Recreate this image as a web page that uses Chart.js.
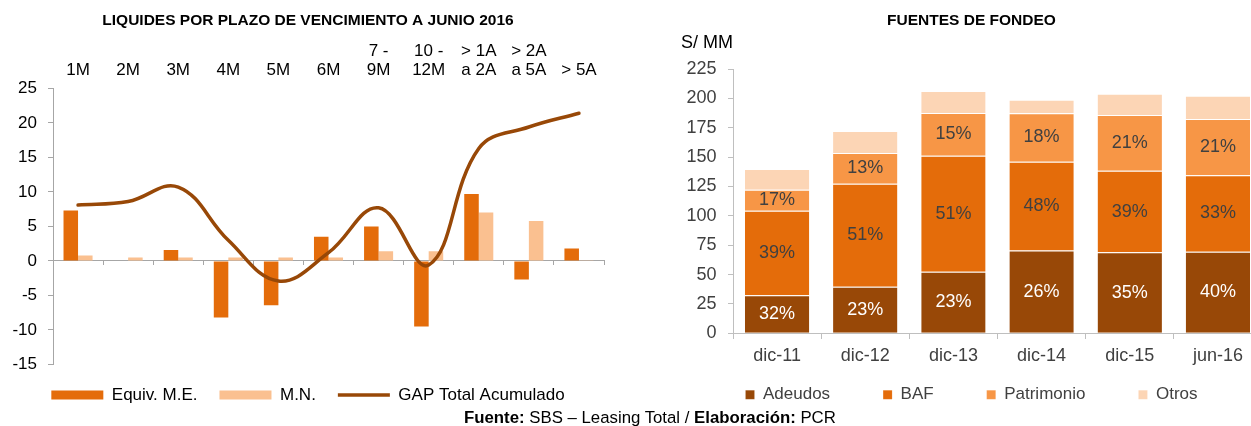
<!DOCTYPE html>
<html>
<head>
<meta charset="utf-8">
<script src="https://cdn.jsdelivr.net/npm/chart.js@4.4.1/dist/chart.umd.min.js"></script>
<style>
html, body { margin: 0; padding: 0; background: #fff; overflow: hidden; width: 1251px; height: 426px; }
#wrap { position: relative; width: 1251px; height: 426px; overflow: hidden; }
#liq { position: absolute; left: 0; top: 0; }
#fon { position: absolute; left: 660px; top: 0; }
#nota { position: absolute; left: 464px; top: 408px; font: 16.8px "Liberation Sans", Arial, sans-serif; color: #000; white-space: nowrap; }
</style>
</head>
<body>
<div id="wrap">
  <canvas id="liq" width="620" height="426"></canvas>
  <canvas id="fon" width="615" height="426"></canvas>
  <div id="nota"><b>Fuente:</b> SBS – Leasing Total / <b>Elaboración:</b> PCR</div>
</div>
<script>
// datos grafico izquierdo (liquidez por plazo)
const plazos = [['1M'], ['2M'], ['3M'], ['4M'], ['5M'], ['6M'], ['7 -', '9M'], ['10 -', '12M'], ['> 1A', 'a 2A'], ['> 2A', 'a 5A'], ['> 5A']];
const equivME = [7.3, 0, 1.6, -8.2, -6.4, 3.5, 5.0, -9.5, 9.7, -2.7, 1.8];
const mn = [0.8, 0.5, 0.5, 0.5, 0.5, 0.5, 1.4, 1.4, 7.0, 5.8, 0.1];
const gapAcum = [8.1, 8.6, 10.7, 3.0, -2.9, 1.2, 7.7, -0.6, 16.3, 19.4, 21.4];

// datos grafico derecho (fuentes de fondeo, S/ MM)
const periodos = ['dic-11', 'dic-12', 'dic-13', 'dic-14', 'dic-15', 'jun-16'];
const adeudos = [32.3, 39.7, 52.5, 70.5, 68.9, 69.5];
const baf = [72.1, 87.7, 98.7, 75.6, 69.5, 65.0];
const patrimonio = [17.8, 26.1, 36.3, 41.2, 47.4, 47.9];
const otros = [17.7, 18.7, 18.7, 11.5, 18.2, 19.9];
const pctAdeudos = ['32%', '23%', '23%', '26%', '35%', '40%'];
const pctBaf = ['39%', '51%', '51%', '48%', '39%', '33%'];
const pctPatrimonio = ['17%', '13%', '15%', '18%', '21%', '21%'];

Chart.defaults.font.family = '"Liberation Sans", Arial, sans-serif';

// etiquetas dentro de las barras apiladas
const etiquetasBarras = {
  id: 'etiquetasBarras',
  afterDatasetsDraw(chart) {
    const ctx = chart.ctx;
    chart.data.datasets.forEach((ds, i) => {
      if (!ds.etiquetas) return;
      const meta = chart.getDatasetMeta(i);
      ctx.save();
      ctx.font = '18px "Liberation Sans", Arial, sans-serif';
      ctx.fillStyle = ds.colorEtiqueta;
      ctx.textAlign = 'center';
      ctx.textBaseline = 'middle';
      meta.data.forEach((bar, j) => {
        const p = bar.getCenterPoint();
        ctx.fillText(ds.etiquetas[j], p.x, p.y);
      });
      ctx.restore();
    });
  }
};

const gris = '#a6a6a6';

new Chart(document.getElementById('liq'), {
  type: 'bar',
  data: {
    labels: plazos,
    datasets: [
      { label: 'Equiv. M.E.', data: equivME, backgroundColor: '#e46c0a', pointStyle: 'rect', order: 1,
        categoryPercentage: 0.58, barPercentage: 1 },
      { label: 'M.N.', data: mn, backgroundColor: '#fac090', pointStyle: 'rect', order: 1,
        categoryPercentage: 0.58, barPercentage: 1 },
      { type: 'line', label: 'GAP Total Acumulado', data: gapAcum, borderColor: '#984807', backgroundColor: '#984807',
        borderWidth: 3.5, borderCapStyle: 'round', tension: 0.4, pointRadius: 0, pointStyle: 'line', order: 0 }
    ]
  },
  options: {
    responsive: false,
    animation: false,
    layout: { padding: { left: 12, right: 16, top: 0, bottom: 12.5 } },
    plugins: {
      title: { display: true, text: 'LIQUIDES POR PLAZO DE VENCIMIENTO A JUNIO 2016', color: '#000',
        font: { size: 15.5, weight: 'bold' }, padding: { top: 11.7, bottom: 2.65 } },
      legend: { position: 'bottom',
        labels: { usePointStyle: true, pointStyleWidth: 52, boxHeight: 9, padding: 22, color: '#000',
          font: { size: 17 }, sort: (a, b) => a.datasetIndex - b.datasetIndex } },
      tooltip: { enabled: false }
    },
    scales: {
      x: { position: 'top', grid: { display: false, drawTicks: false }, border: { display: false },
        ticks: { color: '#000', font: { size: 17, lineHeight: 1.1 }, padding: 9, maxRotation: 0, autoSkip: false } },
      x2: { axis: 'x', type: 'category', position: { y: 0 }, offset: true,
        grid: { offset: true, drawOnChartArea: false, tickLength: 4, color: gris },
        border: { color: gris }, ticks: { display: false } },
      y: { min: -15, max: 25, ticks: { stepSize: 5, color: '#000', font: { size: 17 }, padding: 11 },
        grid: { drawOnChartArea: false, tickLength: 5, color: gris }, border: { color: gris },
        afterFit: s => { s.width = 41; } }
    }
  }
});

const gris2 = '#bfbfbf';

new Chart(document.getElementById('fon'), {
  type: 'bar',
  data: {
    labels: periodos,
    datasets: [
      { label: 'Adeudos', data: adeudos, backgroundColor: '#984807', etiquetas: pctAdeudos, colorEtiqueta: '#ffffff' },
      { label: 'BAF', data: baf, backgroundColor: '#e46c0a', etiquetas: pctBaf, colorEtiqueta: '#404040' },
      { label: 'Patrimonio', data: patrimonio, backgroundColor: '#f79646', etiquetas: pctPatrimonio, colorEtiqueta: '#404040' },
      { label: 'Otros', data: otros, backgroundColor: '#fcd5b5' }
    ]
  },
  options: {
    responsive: false,
    animation: false,
    datasets: { bar: { categoryPercentage: 0.73, barPercentage: 1, borderWidth: { top: 1 }, borderColor: 'rgba(255,255,255,0.45)' } },
    layout: { padding: { left: 21, right: 13, top: 0, bottom: 12.7 } },
    plugins: {
      title: { display: true, text: 'FUENTES DE FONDEO', color: '#000', font: { size: 15.5, weight: 'bold' },
        padding: { top: 11.2, bottom: 2.4 } },
      subtitle: { display: true, text: 'S/ MM', align: 'start', color: '#000', font: { size: 18 },
        padding: { top: 0, bottom: 15.2 } },
      legend: { position: 'bottom',
        labels: { boxWidth: 9, boxHeight: 9, padding: 53, color: '#404040', font: { size: 17 } } },
      tooltip: { enabled: false }
    },
    scales: {
      x: { stacked: true, position: { y: 0 }, grid: { drawOnChartArea: false, tickLength: 5, color: gris2 },
        border: { color: gris2 }, ticks: { color: '#404040', font: { size: 18 }, padding: 7 } },
      y: { stacked: true, min: 0, max: 225, ticks: { stepSize: 25, color: '#404040', font: { size: 18 }, padding: 11.5 },
        grid: { drawOnChartArea: false, tickLength: 5, color: gris2 }, border: { color: gris2 },
        afterFit: s => { s.width = 52; } }
    }
  },
  plugins: [etiquetasBarras]
});
</script>
</body>
</html>
